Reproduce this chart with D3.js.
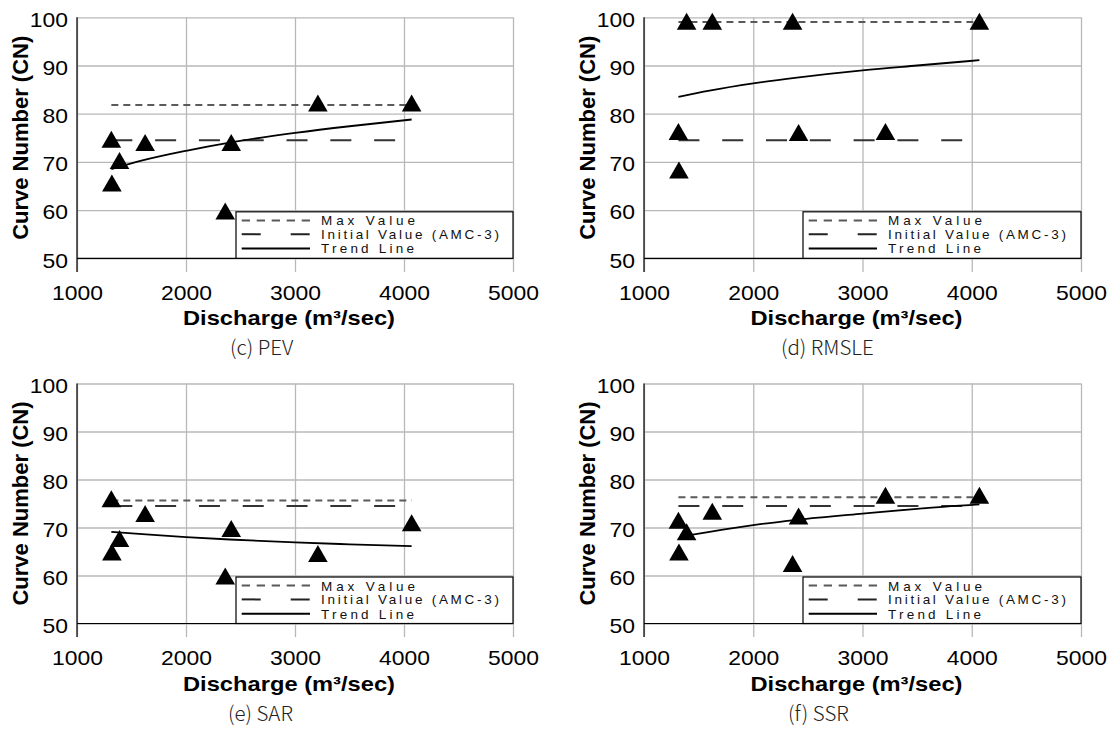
<!DOCTYPE html>
<html>
<head>
<meta charset="utf-8">
<script src="https://cdn.jsdelivr.net/npm/d3@7"></script>
<style>
  html, body { margin: 0; padding: 0; background: #fff; }
  svg { display: block; font-family: "Liberation Sans", Arial, sans-serif; }
</style>
</head>
<body>
<svg id="chart" width="1119" height="732"></svg>
<script>
// Storm events: peak discharge (m³/sec)
const discharge = [1315, 1320, 1390, 1625, 2360, 2415, 3210, 4070];

// Calibrated curve numbers per objective function
const cnPEV   = [74.7, 65.6, 70.3, 74.0, 59.8, 74.0, 82.2, 82.2];
const cnRMSLE = [76.3, 68.3, 99.2, 99.2, 99.2, 76.1, 76.3, 99.2];
const cnSAR   = [76.0, 64.9, 67.7, 72.9, 59.9, 69.8, 64.6, 71.0];
const cnSSR   = [71.5, 64.9, 69.1, 73.4, 62.5, 72.4, 76.7, 76.7];

// Maximum calibrated CN (c, d, e, f) and the AMC-3 initial value
const maxCN = [81.8, 99.0, 75.6, 76.3];
const initialCN = 74.5;

// Trend lines (discharge, CN)
const trendQ      = [1315, 1600, 2000, 2400, 3000, 3500, 4070];
const trendQSSR   = [1390, 1600, 2000, 2400, 3000, 3500, 4070];
const trendPEV    = [68.5, 70.3, 72.3, 74.0, 76.0, 77.4, 78.8];
const trendRMSLE  = [83.5, 84.8, 86.3, 87.5, 89.0, 90.0, 91.1];
const trendSAR    = [69.1, 68.6, 68.0, 67.5, 66.9, 66.5, 66.1];
const trendSSR    = [68.3, 69.1, 70.5, 71.6, 72.9, 73.9, 74.8];

const panelLabels  = ["(c) PEV", "(d) RMSLE", "(e) SAR", "(f) SSR"];
const xTicks       = [1000, 2000, 3000, 4000, 5000];
const yTicks       = [50, 60, 70, 80, 90, 100];
const legendLabels = ["Max Value", "Initial Value (AMC-3)", "Trend Line"];
const xTitle = "Discharge (m³/sec)";
const yTitle = "Curve Number (CN)";

const panels = [
  { cn: cnPEV,   maxv: maxCN[0], tq: trendQ,    tv: trendPEV,   left: 77,  top: 17.3,  w: 436, h: 241, capX: 230 },
  { cn: cnRMSLE, maxv: maxCN[1], tq: trendQ,    tv: trendRMSLE, left: 644, top: 17.3,  w: 437, h: 241, capX: 781 },
  { cn: cnSAR,   maxv: maxCN[2], tq: trendQ,    tv: trendSAR,   left: 77,  top: 383.5, w: 436, h: 240, capX: 228 },
  { cn: cnSSR,   maxv: maxCN[3], tq: trendQSSR, tv: trendSSR,   left: 644, top: 383.5, w: 437, h: 240, capX: 788 }
];

const svg = d3.select("#chart");
const gridColor = "#b8b8b8";
const tickExt = 13.6;

// widen a text element horizontally by factor k
function widen(sel, k) {
  sel.each(function () {
    const L = this.getComputedTextLength();
    this.setAttribute("textLength", (L * k).toFixed(1));
    this.setAttribute("lengthAdjust", "spacingAndGlyphs");
  });
}

panels.forEach((p, i) => {
  const g = svg.append("g").attr("transform", `translate(${p.left},${p.top})`);
  const x = d3.scaleLinear().domain([1000, 5000]).range([0, p.w]);
  const y = d3.scaleLinear().domain([50, 100]).range([p.h, 0]);

  // horizontal gridlines
  const yg = g.append("g").call(d3.axisLeft(y).tickValues(yTicks).tickSize(-p.w).tickFormat(""));
  yg.select(".domain").remove();
  yg.selectAll("line").attr("stroke", gridColor).attr("stroke-width", 1.3);

  // vertical gridlines, running past the bottom as tick marks
  const xg = g.append("g").attr("transform", `translate(0,${p.h + tickExt})`)
    .call(d3.axisBottom(x).tickValues(xTicks).tickSize(-(p.h + tickExt)).tickPadding(13));
  xg.select(".domain").remove();
  xg.selectAll("line").attr("stroke", gridColor).attr("stroke-width", 1.3);
  xg.selectAll("text").attr("font-size", 21).attr("fill", "#000").attr("dy", "0.71em")
    .text(d => d);
  widen(xg.selectAll("text"), 1.09);

  // y tick labels
  const yl = g.append("g").call(d3.axisLeft(y).tickValues(yTicks).tickSize(0).tickPadding(9));
  yl.select(".domain").remove();
  yl.selectAll("text").attr("font-size", 21).attr("fill", "#000").attr("dy", "0.42em");
  widen(yl.selectAll("text"), 1.09);

  // axis lines
  g.append("line").attr("x1", x(1000)).attr("x2", x(1000)).attr("y1", 0).attr("y2", p.h + tickExt)
    .attr("stroke", "#000").attr("stroke-width", 1.2);
  g.append("line").attr("x1", x(1000)).attr("x2", x(5000)).attr("y1", y(50)).attr("y2", y(50))
    .attr("stroke", "#000").attr("stroke-width", 1.2);

  const qMin = d3.min(discharge), qMax = d3.max(discharge);

  // max value line
  g.append("line").attr("x1", x(qMin)).attr("x2", x(qMax))
    .attr("y1", y(p.maxv)).attr("y2", y(p.maxv))
    .attr("stroke", "#5a5a5a").attr("stroke-width", 2).attr("stroke-dasharray", "7,5");

  // initial (AMC-3) line
  g.append("line").attr("x1", x(qMin)).attr("x2", x(qMax))
    .attr("y1", y(initialCN)).attr("y2", y(initialCN))
    .attr("stroke", "#333").attr("stroke-width", 2).attr("stroke-dasharray", "21,22.8");

  // trend line
  const tpts = p.tq.map((q, k) => [q, p.tv[k]]);
  g.append("path").datum(tpts)
    .attr("d", d3.line().x(d => x(d[0])).y(d => y(d[1])).curve(d3.curveMonotoneX))
    .attr("fill", "none").attr("stroke", "#000").attr("stroke-width", 1.8);

  // legend
  const lx = x(1000) + (236 - 77), ly = y(50) - 46.5, lw = x(5000) - lx, lh = 46.5;
  const lg = g.append("g");
  lg.append("rect").attr("x", lx).attr("y", ly).attr("width", lw).attr("height", lh)
    .attr("fill", "#fff").attr("stroke", "#000").attr("stroke-width", 1.2);
  const rowY = [8.6, 22.4, 36.7];
  const dashes = ["8.3,6.7", "19,30", null];
  const colors = ["#5a5a5a", "#222", "#000"];
  const widths = [94, 178, 93];
  legendLabels.forEach((lab, k) => {
    lg.append("line").attr("x1", lx + 5.7).attr("x2", lx + 74).attr("y1", ly + rowY[k]).attr("y2", ly + rowY[k])
      .attr("stroke", colors[k]).attr("stroke-width", 2)
      .attr("stroke-dasharray", dashes[k]);
    lg.append("text").attr("x", lx + 85).attr("y", ly + rowY[k] + 4.9)
      .attr("font-size", 13.5).attr("fill", "#111")
      .attr("textLength", widths[k]).attr("lengthAdjust", "spacing")
      .text(lab);
  });

  // data triangles
  const tri = "M0,-8.5L9.8,8.5L-9.8,8.5Z";
  g.append("g").selectAll("path").data(discharge.map((q, k) => [q, p.cn[k]])).join("path")
    .attr("d", tri)
    .attr("transform", d => `translate(${x(d[0])},${y(d[1])})`)
    .attr("fill", "#000");

  // axis titles
  g.append("text").attr("x", p.w / 2 - 6).attr("y", p.h + 67)
    .attr("text-anchor", "middle").attr("font-size", 21).attr("font-weight", "bold")
    .attr("textLength", 212).attr("lengthAdjust", "spacingAndGlyphs")
    .text(xTitle);
  g.append("text").attr("transform", `translate(-57,${p.h / 2}) rotate(-90)`)
    .attr("text-anchor", "middle").attr("dominant-baseline", "central")
    .attr("font-size", 22).attr("font-weight", "bold")
    .text(yTitle);

  // caption
  svg.append("text").attr("x", p.capX).attr("y", p.top + p.h + 97)
    .attr("font-family", "'Noto Sans CJK KR', 'Noto Sans', sans-serif")
    .attr("font-weight", 300).attr("font-size", 20.5).attr("fill", "#222")
    .text(panelLabels[i]);
});
</script>
</body>
</html>
